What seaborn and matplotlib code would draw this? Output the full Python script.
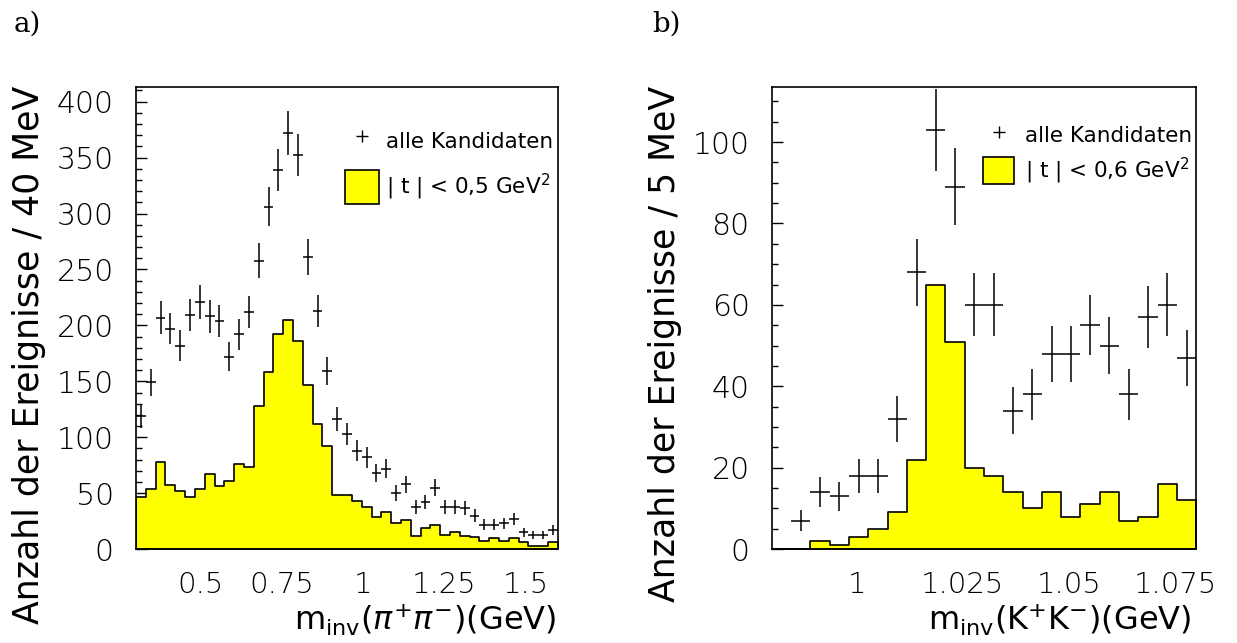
import numpy as np
import pandas as pd
import seaborn as sns
import matplotlib.pyplot as plt
from matplotlib.lines import Line2D
from matplotlib.patches import Patch
from matplotlib.ticker import MultipleLocator

# pi+ pi- spectrum, 43 bins from 0.30 to 1.60 GeV
pipi_edges = np.linspace(0.30, 1.60, 44)
pipi_all = [119, 149, 207, 197, 182, 209, 221, 208, 204, 172, 192, 212, 258, 306, 339,
            372, 352, 261, 213, 159, 116, 103, 88, 82, 68, 72, 50, 58, 38, 42, 55,
            38, 38, 37, 30, 22, 22, 23, 27, 15, 13, 13, 17]
pipi_cut = [47, 54, 78, 57, 52, 47, 54, 67, 56, 61, 76, 73, 128, 158, 192,
            205, 186, 147, 112, 92, 48, 48, 43, 38, 29, 33, 23, 26, 12, 19, 22,
            13, 15, 12, 11, 7, 10, 7, 10, 6, 3, 3, 6]

# K+ K- spectrum, 22 bins from 0.98 to 1.08 GeV
kk_edges = np.linspace(0.98, 1.08, 23)
kk_all = [0, 7, 14, 13, 18, 18, 32, 68, 103, 89, 60, 60, 34, 38, 48, 48, 55, 50, 38, 57, 60, 47]
kk_cut = [0, 0, 2, 1, 3, 5, 9, 22, 65, 51, 20, 18, 14, 10, 14, 8, 11, 14, 7, 8, 16, 12]

sns.set_style("ticks")
plt.rcParams["font.family"] = ["DejaVu Sans"]
plt.rcParams["mathtext.fontset"] = "dejavusans"
for key in ["text.color", "axes.labelcolor", "xtick.color", "ytick.color"]:
    plt.rcParams[key] = "black"

fig = plt.figure(figsize=(12.37, 6.43), dpi=100)
ax1 = fig.add_axes([0.110, 0.146, 0.341, 0.7185])
ax2 = fig.add_axes([0.624, 0.146, 0.343, 0.7185])


def panel(ax, edges, allc, cut, ymax, major, minor, cutlabel, leg):
    centers = 0.5 * (edges[:-1] + edges[1:])
    binw = edges[1] - edges[0]
    df = pd.DataFrame({"m": centers, "n": cut})
    sns.histplot(data=df, x="m", weights="n", bins=list(edges), element="step",
                 fill=True, color="#ffff00", alpha=1, edgecolor="black",
                 linewidth=1.2, ax=ax)
    allc = np.array(allc, dtype=float)
    m = allc > 0
    ax.errorbar(centers[m], allc[m], xerr=binw / 2, yerr=np.sqrt(allc[m]),
                fmt="none", ecolor="black", elinewidth=1.1, capsize=0)
    ax.set_xlim(edges[0], edges[-1])
    ax.set_ylim(0, ymax)
    ax.set_xlabel("")
    ax.set_ylabel("")
    ax.yaxis.set_major_locator(MultipleLocator(major))
    ax.yaxis.set_minor_locator(MultipleLocator(minor))
    ax.tick_params(axis="y", which="major", direction="in", length=8, width=1, pad=16,
                   labelsize=21.5)
    ax.tick_params(axis="y", which="minor", direction="in", length=4.5, width=1)
    ax.tick_params(axis="x", which="both", length=0, pad=16, labelsize=21)
    for s in ax.spines.values():
        s.set_linewidth(1.2)
        s.set_color("black")
    for lab in ax.get_xticklabels() + ax.get_yticklabels():
        lab.set_fontweight("light")
    handles = [Line2D([], [], marker="+", color="black", ls="none", markersize=9, mew=1),
               Patch(facecolor="#ffff00", edgecolor="black", linewidth=1.2)]
    ax.legend(handles, ["alle Kandidaten", cutlabel], loc="upper right",
              bbox_to_anchor=leg["anchor"], frameon=False, fontsize=15.5,
              handlelength=leg["hl"], handleheight=leg["hh"],
              handletextpad=leg["pad"], labelspacing=leg["sp"],
              borderpad=0, borderaxespad=0)


panel(ax1, pipi_edges, pipi_all, pipi_cut, 413, 50, 10, "| t | < 0,5 GeV$^{2}$",
      {"anchor": (0.988, 0.92), "hl": 1.58, "hh": 2.04, "pad": 0.3, "sp": 0.56})
ax1.set_xticks([0.5, 0.75, 1.0, 1.25, 1.5])
ax1.set_xticklabels(["0.5", "0.75", "1", "1.25", "1.5"])

panel(ax2, kk_edges, kk_all, kk_cut, 113.5, 20, 5, "| t | < 0,6 GeV$^{2}$",
      {"anchor": (0.99, 0.925), "hl": 1.44, "hh": 1.57, "pad": 0.5, "sp": 0.3})
ax2.set_xticks([1.0, 1.025, 1.05, 1.075])
ax2.set_xticklabels(["1", "1.025", "1.05", "1.075"])

fig.text(0.0234, 0.866, "Anzahl der Ereignisse / 40 MeV", rotation=90, ha="center",
         va="top", fontsize=25)
fig.text(0.5376, 0.866, "Anzahl der Ereignisse / 5 MeV", rotation=90, ha="center",
         va="top", fontsize=25)
fig.text(0.450, 0.038, r"m$_{\mathrm{inv}}$($\pi^{+}\pi^{-}$)(GeV)", ha="right",
         va="center", fontsize=23)
fig.text(0.9636, 0.038, r"m$_{\mathrm{inv}}$(K$^{+}$K$^{-}$)(GeV)", ha="right",
         va="center", fontsize=23)
fig.text(0.011, 0.963, "a)", family="DejaVu Serif", fontsize=20, va="center")
fig.text(0.527, 0.963, "b)", family="DejaVu Serif", fontsize=20, va="center")

fig.savefig("out.png", dpi=100)
